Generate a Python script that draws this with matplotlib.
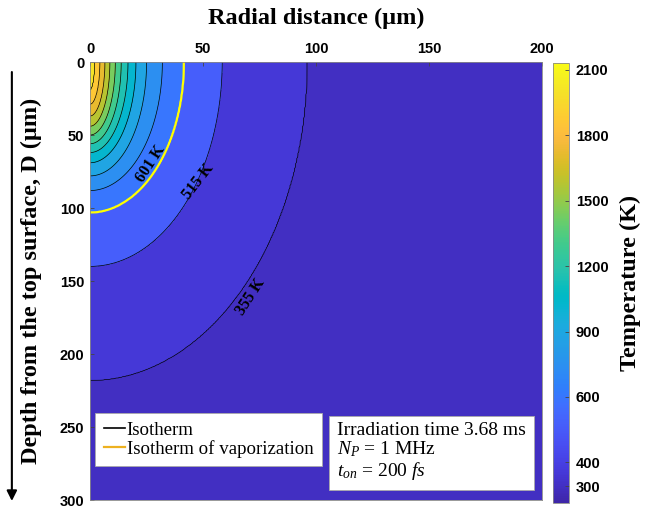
import numpy as np
import matplotlib
matplotlib.use("Agg")
import matplotlib.pyplot as plt
from matplotlib.colors import LinearSegmentedColormap, FuncNorm
from matplotlib.lines import Line2D
import matplotlib.cm as cm

plt.rcParams["mathtext.fontset"] = "custom"
plt.rcParams["mathtext.rm"] = "Liberation Serif"
plt.rcParams["mathtext.it"] = "Liberation Serif:italic"

# isotherms: level (K), radial reach at the surface (um), depth on the axis (um)
iso_levels = [355, 515, 601, 741, 881, 1021, 1161, 1301, 1441, 1581, 1721, 1861, 2001]
iso_radius = [96, 58.5, 41.5, 32, 25, 20.3, 16.8, 13.8, 11.2, 8.8, 6.6, 4.4, 2.2]
iso_depth = [218, 140, 103, 88, 78, 69, 62, 56, 50, 44, 37, 29, 19]
t_ambient = 300
t_peak = 2060
vapor_level = 601
labelled = [601, 515, 355]

cbar_ticks = [300, 400, 600, 900, 1200, 1500, 1800, 2100]
# colorbar is not linear: tick value -> fraction of the bar height
cbar_knots_t = [230, 300, 400, 600, 2132]
cbar_knots_f = [0.0, 0.0386, 0.093, 0.241, 1.0]

# MATLAB parula (64 entries)
parula = [
    (0.2422, 0.1504, 0.6603), (0.2504, 0.1650, 0.7076), (0.2578, 0.1818, 0.7511), (0.2647, 0.1978, 0.7952),
    (0.2706, 0.2147, 0.8364), (0.2751, 0.2342, 0.8710), (0.2783, 0.2559, 0.8991), (0.2803, 0.2782, 0.9221),
    (0.2813, 0.3006, 0.9414), (0.2810, 0.3228, 0.9579), (0.2795, 0.3447, 0.9717), (0.2760, 0.3667, 0.9829),
    (0.2699, 0.3892, 0.9906), (0.2602, 0.4123, 0.9952), (0.2440, 0.4358, 0.9988), (0.2206, 0.4603, 0.9973),
    (0.1963, 0.4847, 0.9892), (0.1834, 0.5074, 0.9798), (0.1786, 0.5289, 0.9682), (0.1764, 0.5499, 0.9520),
    (0.1687, 0.5703, 0.9359), (0.1540, 0.5902, 0.9218), (0.1460, 0.6091, 0.9079), (0.1380, 0.6276, 0.8973),
    (0.1248, 0.6459, 0.8883), (0.1113, 0.6635, 0.8763), (0.0952, 0.6798, 0.8598), (0.0689, 0.6948, 0.8394),
    (0.0297, 0.7082, 0.8163), (0.0036, 0.7203, 0.7917), (0.0067, 0.7312, 0.7660), (0.0433, 0.7411, 0.7394),
    (0.0964, 0.7500, 0.7120), (0.1408, 0.7584, 0.6842), (0.1717, 0.7670, 0.6554), (0.1938, 0.7758, 0.6251),
    (0.2161, 0.7843, 0.5923), (0.2470, 0.7918, 0.5567), (0.2906, 0.7973, 0.5188), (0.3406, 0.8008, 0.4789),
    (0.3909, 0.8029, 0.4354), (0.4456, 0.8024, 0.3909), (0.5044, 0.7993, 0.3480), (0.5616, 0.7942, 0.3045),
    (0.6174, 0.7876, 0.2612), (0.6720, 0.7793, 0.2227), (0.7242, 0.7698, 0.1910), (0.7738, 0.7598, 0.1646),
    (0.8203, 0.7498, 0.1535), (0.8634, 0.7406, 0.1596), (0.9035, 0.7330, 0.1774), (0.9393, 0.7288, 0.2100),
    (0.9728, 0.7298, 0.2394), (0.9956, 0.7434, 0.2371), (0.9970, 0.7659, 0.2199), (0.9952, 0.7893, 0.2028),
    (0.9892, 0.8136, 0.1885), (0.9786, 0.8386, 0.1766), (0.9676, 0.8639, 0.1643), (0.9610, 0.8890, 0.1537),
    (0.9597, 0.9135, 0.1423), (0.9628, 0.9373, 0.1265), (0.9691, 0.9606, 0.1064), (0.9769, 0.9839, 0.0805),
]
cmap = LinearSegmentedColormap.from_list("parula", parula, N=256)
norm = FuncNorm((lambda v: np.interp(v, cbar_knots_t, cbar_knots_f),
                 lambda f: np.interp(f, cbar_knots_f, cbar_knots_t)),
                vmin=cbar_knots_t[0], vmax=cbar_knots_t[-1])

# temperature field built from the nested isotherm ellipses
lev = np.array([t_ambient] + iso_levels + [t_peak], float)
ax_a = np.array([420] + iso_radius + [0.4])
ax_b = np.array([800] + iso_depth + [3.0])
r = np.linspace(0, 200, 401)
z = np.linspace(0, 300, 601)
R, Z = np.meshgrid(r, z)
Q = np.log(np.sqrt((R[None] / ax_a[:, None, None]) ** 2 + (Z[None] / ax_b[:, None, None]) ** 2) + 1e-9)
k = np.clip((Q < 0).sum(axis=0), 1, len(lev) - 1)
q0 = np.take_along_axis(Q, (k - 1)[None], 0)[0]
q1 = np.take_along_axis(Q, k[None], 0)[0]
frac = np.clip(-q0 / (q1 - q0), 0, 1)
T = lev[k - 1] + (lev[k] - lev[k - 1]) * frac

fig = plt.figure(figsize=(6.59, 5.13), dpi=100)
ax = fig.add_axes([0.1366, 0.0253, 0.6859, 0.8538])
cax = fig.add_axes([0.8392, 0.0195, 0.0243, 0.8577])

fill_levels = [t_ambient - 10] + iso_levels + [t_peak + 50]
band_colors = [cmap(norm(v)) for v in [t_ambient] + iso_levels]
ax.contourf(R, Z, T, levels=fill_levels, colors=band_colors)
ax.contour(R, Z, T, levels=[v for v in iso_levels if v != vapor_level], colors="k", linewidths=0.5)
ax.contour(R, Z, T, levels=[vapor_level], colors="#ffff00", linewidths=1.6)

# isotherm labels
lab_pos = {601: (27, 70, 57), 515: (48, 82, 52), 355: (71, 161, 57)}
for lv in labelled:
    x, y, rot = lab_pos[lv]
    ax.text(x, y, f"{lv} K", rotation=rot, ha="center", va="center", fontsize=11.5,
            family="Liberation Serif", fontweight="bold", color="k")

ax.set_xlim(0, 200)
ax.set_ylim(300, 0)
ax.set_xticks([0, 50, 100, 150, 200])
ax.set_yticks([0, 50, 100, 150, 200, 250, 300])
ax.xaxis.tick_top()
ax.xaxis.set_label_position("top")
ax.tick_params(direction="in", length=3, width=0.6, color="#444444", labelsize=10.5, pad=4)
for t in ax.get_xticklabels() + ax.get_yticklabels():
    t.set_family("Liberation Sans")
    t.set_fontweight("bold")
for s in ax.spines.values():
    s.set_color("#888888")
    s.set_linewidth(0.6)
ax.set_xlabel("Radial distance (µm)", family="Liberation Serif", fontweight="bold", fontsize=17.5, labelpad=13)
ax.set_ylabel("Depth from the top surface, D (µm)", family="Liberation Serif", fontweight="bold",
              fontsize=17.5, labelpad=13)

# legend
handles = [Line2D([0], [0], color="k", lw=1.2), Line2D([0], [0], color="#EDB120", lw=1.6)]
leg = ax.legend(handles, ["Isotherm", "Isotherm of vaporization"], loc="upper left",
                bbox_to_anchor=(0.012, 0.198), prop={"family": "Liberation Serif", "size": 13.6},
                handlelength=1.1, handletextpad=0.1, borderpad=0.45, labelspacing=0.05,
                handleheight=0.6, borderaxespad=0, fancybox=False, framealpha=1, edgecolor="#aaaaaa")
leg.get_frame().set_linewidth(0.6)

ax.text(0.547, 0.179, "Irradiation time 3.68 ms\n$N_P$ = 1 MHz\n$t_{on}$ = 200 $fs$", transform=ax.transAxes,
        ha="left", va="top", fontsize=14, family="Liberation Serif", linespacing=1.05,
        bbox=dict(boxstyle="square,pad=0.4", fc="w", ec="#aaaaaa", lw=0.6))

# colorbar
sm = cm.ScalarMappable(norm=norm, cmap=cmap)
cb = fig.colorbar(sm, cax=cax, ticks=cbar_ticks)
cb.outline.set_edgecolor("#888888")
cb.outline.set_linewidth(0.6)
cax.tick_params(direction="in", length=3, width=0.6, color="#444444", labelsize=10.5, pad=5)
for t in cax.get_yticklabels():
    t.set_family("Liberation Sans")
    t.set_fontweight("bold")
cax.yaxis.set_minor_locator(matplotlib.ticker.NullLocator())
cb.set_label("Temperature (K)", family="Liberation Serif", fontweight="bold", fontsize=17.5, labelpad=8)

# arrow along the depth axis
fig.add_artist(matplotlib.patches.FancyArrowPatch((0.018, 0.865), (0.018, 0.018), transform=fig.transFigure,
                                                  arrowstyle="-|>,head_length=6,head_width=3", color="k", lw=1.5))

fig.savefig("out.png", dpi=100)
